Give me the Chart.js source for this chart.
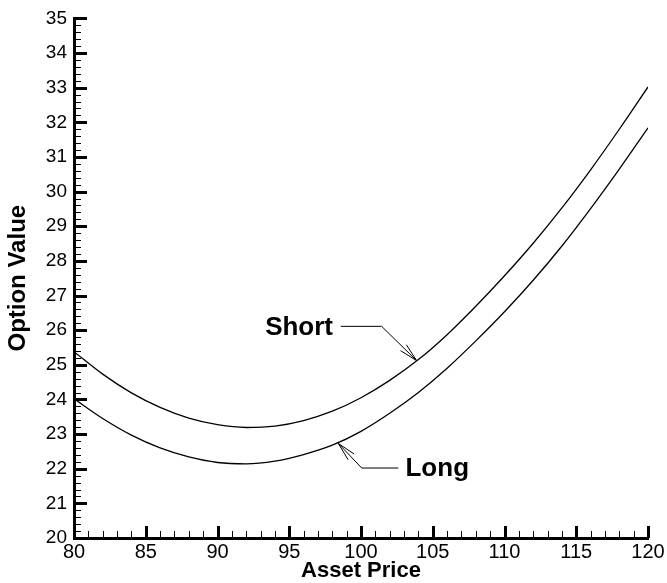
<!DOCTYPE html>
<html><head><meta charset="utf-8">
<script src="https://cdn.jsdelivr.net/npm/chart.js@4.4.1/dist/chart.umd.min.js"></script>
<style>html,body{margin:0;padding:0;background:#fff}#wrap{width:667px;height:583px}</style>
</head><body><div id="wrap"><canvas id="c" width="667" height="583"></canvas></div>
<script>
// ---- data ----
const assetPrice = [80,82,84,86,88,90,92,94,96,98,100,102,104,106,108,110,112,114,116,118,120];
const shortValue = [25.38,24.73,24.19,23.77,23.46,23.27,23.19,23.23,23.39,23.66,24.05,24.55,25.15,25.87,26.69,27.57,28.51,29.53,30.63,31.80,33.02];
const longValue  = [24.02,23.45,22.97,22.60,22.34,22.18,22.14,22.22,22.41,22.68,23.08,23.60,24.20,24.90,25.69,26.53,27.44,28.43,29.51,30.65,31.84];
const xTickLabels = [80,85,90,95,100,105,110,115,120];
const yTickLabels = [20,21,22,23,24,25,26,27,28,29,30,31,32,33,34,35];
const xMinorStep = 1;
const yMinorStep = 0.2;
// annotations (data coordinates)
const shortLabel = 'Short';
const shortLabelAt = [98.05, 26.11];
const shortPath = [[98.59, 26.11], [101.44, 26.11], [103.88, 25.12]];
const longLabel = 'Long';
const longLabelAt = [103.1, 22.02];
const longPath = [[102.6, 22.02], [100.05, 22.02], [98.42, 22.73]];

const FONT = "'Liberation Sans', Arial, Helvetica, sans-serif";

const toXY = (xs, ys) => xs.map((v, i) => ({x: v, y: ys[i]}));

const axisTicks = {
  id: 'axisTicks',
  afterDraw(chart) {
    const {ctx, chartArea: a, scales: {x, y}} = chart;
    ctx.save();
    ctx.strokeStyle = '#000';
    ctx.lineCap = 'butt';
    const line = (x1, y1, x2, y2) => { ctx.beginPath(); ctx.moveTo(x1, y1); ctx.lineTo(x2, y2); ctx.stroke(); };
    ctx.lineWidth = 1;
    const x0 = xTickLabels[0], x1 = xTickLabels[xTickLabels.length - 1];
    for (let k = 0; x0 + k * xMinorStep <= x1 + 1e-9; k++) {
      const v = x0 + k * xMinorStep;
      if (xTickLabels.some(t => Math.abs(t - v) < 1e-6)) continue;
      const px = Math.round(x.getPixelForValue(v)) + 0.5;
      line(px, a.bottom, px, a.bottom - 7);
    }
    const y0 = yTickLabels[0], y1 = yTickLabels[yTickLabels.length - 1];
    for (let k = 0; y0 + k * yMinorStep <= y1 + 1e-9; k++) {
      const v = y0 + k * yMinorStep;
      if (yTickLabels.some(t => Math.abs(t - v) < 1e-6)) continue;
      const py = Math.round(y.getPixelForValue(v)) + 0.5;
      line(a.left, py, a.left + 7, py);
    }
    ctx.lineWidth = 3;
    xTickLabels.forEach(v => {
      const px = Math.round(x.getPixelForValue(v)) + 0.5;
      line(px, a.bottom, px, a.bottom - 12);
    });
    yTickLabels.forEach(v => {
      const py = Math.round(y.getPixelForValue(v)) + 0.5;
      line(a.left, py, a.left + 13, py);
    });
    ctx.restore();
  }
};

const callouts = {
  id: 'callouts',
  afterDatasetsDraw(chart) {
    const {ctx, scales: {x, y}} = chart;
    const P = p => [x.getPixelForValue(p[0]), y.getPixelForValue(p[1])];
    ctx.save();
    ctx.strokeStyle = '#000';
    ctx.fillStyle = '#000';
    ctx.lineWidth = 1;
    const drawPath = (path) => {
      const pts = path.map(P);
      ctx.beginPath();
      ctx.moveTo(pts[0][0], pts[0][1]);
      for (let i = 1; i < pts.length; i++) ctx.lineTo(pts[i][0], pts[i][1]);
      ctx.stroke();
      const [ex, ey] = pts[pts.length - 2];
      const [tx, ty] = pts[pts.length - 1];
      const ang = Math.atan2(ty - ey, tx - ex);
      const L = 19, th = 0.22;
      [ang - th, ang + th].forEach(t => {
        ctx.beginPath();
        ctx.moveTo(tx, ty);
        ctx.lineTo(tx - L * Math.cos(t), ty - L * Math.sin(t));
        ctx.stroke();
      });
    };
    drawPath(shortPath);
    drawPath(longPath);
    ctx.font = 'bold 26px ' + FONT;
    ctx.textBaseline = 'alphabetic';
    let p = P(shortLabelAt);
    ctx.textAlign = 'right';
    ctx.fillText(shortLabel, p[0], p[1] + 9);
    p = P(longLabelAt);
    ctx.textAlign = 'left';
    ctx.fillText(longLabel, p[0], p[1] + 8);
    ctx.restore();
  }
};

new Chart(document.getElementById('c'), {
  type: 'line',
  data: {
    datasets: [
      {label: 'Short', data: toXY(assetPrice, shortValue), borderColor: '#000', borderWidth: 1.3, pointRadius: 0, cubicInterpolationMode: 'monotone', fill: false},
      {label: 'Long', data: toXY(assetPrice, longValue), borderColor: '#000', borderWidth: 1.3, pointRadius: 0, cubicInterpolationMode: 'monotone', fill: false}
    ]
  },
  options: {
    responsive: false,
    animation: false,
    devicePixelRatio: 1,
    layout: {padding: {top: 13, right: 19, bottom: 0, left: 0}},
    plugins: {legend: {display: false}, tooltip: {enabled: false}},
    scales: {
      x: {
        type: 'linear', min: 80, max: 120,
        afterBuildTicks: s => { s.ticks = xTickLabels.map(v => ({value: v})); },
        afterFit: s => { s.height = 45; },
        grid: {display: false, drawTicks: false},
        border: {display: true, color: '#000', width: 3},
        ticks: {color: '#000', font: {family: FONT, size: 20}, padding: 2, maxRotation: 0, autoSkip: false},
        title: {display: true, text: 'Asset Price', color: '#000', font: {family: FONT, size: 22, weight: 'bold', lineHeight: 1.1}, padding: {top: 0, bottom: 0}}
      },
      y: {
        type: 'linear', min: 20, max: 35,
        afterBuildTicks: s => { s.ticks = yTickLabels.map(v => ({value: v})); },
        afterFit: s => { s.width = 74; },
        grid: {display: false, drawTicks: false},
        border: {display: true, color: '#000', width: 3},
        ticks: {color: '#000', font: {family: FONT, size: 19}, padding: 7, autoSkip: false},
        title: {display: true, text: 'Option Value', color: '#000', font: {family: FONT, size: 24, weight: 'bold', lineHeight: 1.2}, padding: {top: 4, bottom: 0}}
      }
    }
  },
  plugins: [axisTicks, callouts]
});
</script>
</body></html>
